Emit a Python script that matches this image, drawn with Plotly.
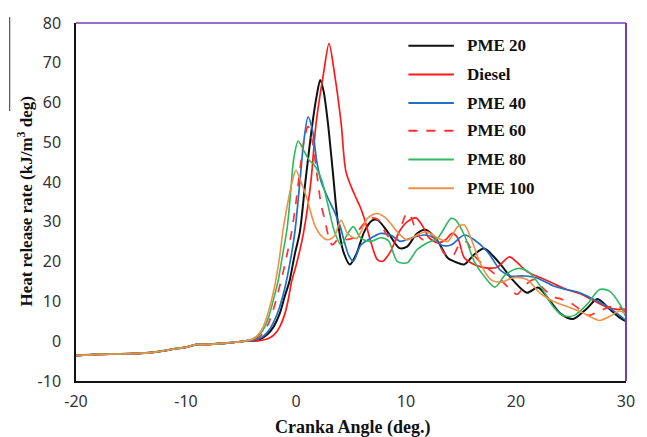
import plotly.graph_objects as go

# Axis ticks (hyphen minus as printed on the axes)
x_ticks = [-20, -10, 0, 10, 20, 30]
x_tick_text = ["-20", "-10", "0", "10", "20", "30"]
y_ticks = [-10, 0, 10, 20, 30, 40, 50, 60, 70, 80]
y_tick_text = ["-10", "0", "10", "20", "30", "40", "50", "60", "70", "80"]

# Pre-ignition part shared by all fuels (crank angle in deg, HRR in kJ/m3 deg)
angle_pre = [-20, -18, -16, -14, -13, -12, -11, -10, -9, -8, -7, -6, -5, -4.5]
hrr_pre = [-3.6, -3.3, -3.2, -3.0, -2.8, -2.4, -1.9, -1.5, -0.8, -0.8, -0.6, -0.4, -0.1, 0.1]

angle_pme20 = [-4, -3.5, -3, -2.5, -2, -1.5, -1, -0.6, -0.1, 0.35, 0.85, 1.5, 1.9, 2.2, 2.5, 2.9,
               3.35, 3.8, 4.3, 4.9, 5.5, 6.2, 6.9, 7.4, 8.3, 9.4, 10.1, 11.0, 11.8, 12.9, 13.8,
               14.7, 15.3, 16.2, 17.1, 17.9, 18.6, 19.8, 21.0, 22.0, 23.1, 24.1, 25.2, 26.4,
               27.4, 28.5, 29.4, 30]
hrr_pme20 = [0.1, 0.3, 0.9, 2.0, 3.8, 6.8, 11.5, 15.0, 22.0, 27.5, 40.0, 54.9, 62.0, 65.7, 63.0,
             54.9, 42.5, 30.0, 22.6, 19.3, 22.0, 27.5, 30.3, 30.5, 27.6, 23.4, 23.8, 27.1, 28.0,
             25.1, 20.9, 19.7, 19.3, 21.8, 23.3, 21.5, 19.3, 15.1, 12.2, 13.5, 10.1, 6.8, 5.6,
             8.1, 10.6, 8.1, 6.0, 5.0]

angle_diesel = [-4, -3.5, -3, -2.5, -2, -1.5, -1, -0.7, -0.4, 0.1, 0.7, 1.35, 1.83, 2.5, 3.0,
                3.5, 4.1, 4.55, 5.3, 5.8, 6.2, 6.8, 7.4, 7.9, 8.6, 9.4, 10.1, 10.9, 11.5, 12.1,
                12.9, 13.6, 14.2, 14.7, 15.3, 16.2, 17.4, 18.3, 19.4, 20.1, 21.0, 22.2, 23.4,
                24.6, 25.8, 27.0, 28.2, 29.2, 30]
hrr_diesel = [0.0, 0.1, 0.3, 0.7, 1.6, 3.5, 7.0, 10.5, 15.0, 20.0, 27.5, 40.0, 54.9, 67.3, 74.8,
              67.3, 54.9, 42.5, 37.0, 34.0, 31.0, 25.0, 20.5, 20.1, 22.6, 27.6, 30.0, 31.0, 29.0,
              26.0, 24.7, 25.5, 27.1, 26.0, 21.0, 19.3, 18.4, 18.6, 21.2, 19.8, 17.5, 16.0, 14.5,
              13.0, 12.0, 10.3, 8.6, 8.0, 8.1]

angle_pme40 = [-4, -3.5, -3, -2.5, -2, -1.5, -1, -0.5, -0.1, 0.35, 0.7, 1.1, 1.5, 1.9, 2.3, 2.9,
               3.5, 4.0, 4.4, 4.8, 5.2, 5.9, 6.8, 7.7, 8.6, 9.5, 10.4, 11.7, 12.6, 13.2, 14.1,
               15.3, 16.2, 17.4, 18.6, 19.5, 20.7, 21.9, 23.4, 24.6, 25.8, 27.0, 28.2, 29.1, 30]
hrr_pme40 = [0.2, 0.5, 1.2, 2.6, 5.0, 8.5, 13.5, 20.5, 27.5, 40.0, 50.0, 56.4, 53.0, 45.0, 40.0,
             36.0, 32.5, 29.0, 25.0, 21.5, 20.1, 24.2, 25.9, 27.1, 26.7, 25.1, 25.9, 26.7, 25.9,
             24.2, 24.2, 26.7, 25.5, 22.5, 17.8, 16.4, 16.4, 15.9, 13.9, 13.0, 12.2, 10.6, 8.9,
             7.2, 5.2]

angle_pme60 = [-4, -3.5, -3, -2.5, -2, -1.6, -1.2, -0.8, -0.4, 0, 0.4, 0.8, 1.1, 1.5, 1.9, 2.3,
               2.6, 3.0, 3.3, 3.8, 4.5, 5.2, 6.0, 6.8, 7.5, 8.2, 8.9, 9.5, 10.1, 10.5, 11.0, 11.6,
               12.2, 12.9, 13.5, 14.2, 14.9, 15.5, 16.2, 17.0, 17.8, 18.6, 19.4, 20.1, 20.8,
               21.6, 22.4, 23.3, 24.2, 25.0, 25.8, 26.6, 27.5, 28.4, 29.2, 30]
hrr_pme60 = [0.3, 0.8, 2.0, 4.5, 8.5, 12.6, 17.0, 22.0, 27.5, 35.0, 44.0, 51.5, 54.0, 50.0, 42.0,
             34.0, 30.8, 25.9, 24.2, 25.5, 25.5, 26.0, 29.0, 31.0, 30.5, 27.0, 25.0, 28.5, 32.3,
             31.0, 27.0, 25.5, 27.0, 25.0, 22.0, 21.3, 24.5, 25.0, 21.5, 19.3, 17.5, 15.5, 13.2,
             11.8, 14.0, 15.5, 13.5, 11.3, 10.5, 9.6, 8.0, 6.5, 7.5, 8.5, 9.0, 7.2]

angle_pme80 = [-4, -3.5, -3, -2.5, -2, -1.6, -1.2, -0.8, -0.5, -0.2, 0.2, 0.7, 1.2, 1.6, 2.3,
               2.9, 3.5, 4.1, 4.6, 5.2, 5.9, 6.8, 7.7, 8.4, 9.2, 10.1, 11.0, 11.9, 12.9, 14.1,
               14.5, 15.3, 16.2, 17.2, 18.1, 19.0, 20.2, 21.2, 22.3, 23.3, 24.3, 25.3, 26.5,
               27.6, 28.5, 29.5, 30]
hrr_pme80 = [0.4, 1.2, 2.8, 6.0, 11.0, 15.5, 22.0, 28.5, 37.0, 46.0, 50.3, 48.0, 45.5, 44.5,
             40.8, 34.3, 27.5, 24.2, 26.5, 28.8, 25.9, 25.1, 26.0, 25.3, 20.1, 19.7, 23.0, 24.7,
             26.0, 30.9, 30.5, 26.7, 20.1, 16.0, 13.6, 16.6, 18.3, 17.3, 13.5, 9.0, 6.4, 6.5,
             9.4, 13.0, 12.6, 9.0, 6.0]

angle_pme100 = [-4, -3.5, -3, -2.5, -2, -1.5, -1.2, -0.8, -0.4, 0, 0.4, 1.0, 1.7, 2.3, 2.9, 3.5,
                4.1, 4.7, 5.5, 6.0, 6.5, 7.3, 8.2, 9.2, 10.1, 11.0, 11.9, 12.9, 13.8, 14.7, 15.3,
                15.9, 16.8, 17.7, 18.6, 19.8, 21.0, 22.2, 23.4, 24.6, 25.8, 27.0, 27.6, 28.5,
                29.4, 30]
hrr_pme100 = [0.5, 1.5, 3.5, 7.5, 13.0, 21.0, 27.5, 34.0, 39.5, 43.0, 40.5, 35.8, 29.2, 26.5,
              25.5, 26.5, 30.4, 27.0, 25.8, 28.0, 30.9, 32.1, 30.9, 27.5, 25.5, 26.7, 27.5, 25.9,
              25.1, 28.8, 29.2, 25.9, 19.3, 15.5, 14.8, 16.0, 15.5, 12.0, 10.0, 8.8, 7.5, 5.8,
              5.2, 6.2, 7.6, 6.8]

series = [
    ("PME 20", angle_pme20, hrr_pme20, "#111111", "solid", 2.0),
    ("Diesel", angle_diesel, hrr_diesel, "#FF1A1A", "solid", 1.7),
    ("PME 40", angle_pme40, hrr_pme40, "#1F6FC5", "solid", 1.7),
    ("PME 60", angle_pme60, hrr_pme60, "#FF3030", "dash", 1.7),
    ("PME 80", angle_pme80, hrr_pme80, "#2DBA5E", "solid", 1.6),
    ("PME 100", angle_pme100, hrr_pme100, "#EE9148", "solid", 1.6),
]

fig = go.Figure()
# PME 20 drawn first, the other fuels over it
for name, ang, hrr, color, dash, width in series:
    fig.add_trace(go.Scatter(
        x=angle_pre + ang, y=hrr_pre + hrr, mode="lines", name=name,
        line=dict(color=color, dash=dash, width=width, shape="spline", smoothing=0.8),
        showlegend=False,
    ))

W, H = 647, 437
L, R, T, B = 76, 15, 19, 56
pw, ph = W - L - R, H - T - B


def px(x):
    return (x - L) / pw


def py(y):
    return (H - B - y) / ph


shapes = []
annotations = []
# legend: long line keys with bold serif labels
legend_rows = [42, 71, 100, 128, 157, 186]
for (name, _, _, color, dash, _), yrow in zip(series, legend_rows):
    shapes.append(dict(type="line", xref="paper", yref="paper",
                       x0=px(412), x1=px(458), y0=py(yrow), y1=py(yrow),
                       line=dict(color=color, width=2, dash="dash" if dash == "dash" else "solid")))
    annotations.append(dict(text=f"<b>{name}</b>", xref="paper", yref="paper",
                            x=px(469), y=py(yrow), xanchor="left", yanchor="middle",
                            showarrow=False,
                            font=dict(family="Liberation Serif", size=17, color="#111111")))

# purple frame on top and right
purple = "#7440B8"
shapes.append(dict(type="line", xref="paper", yref="paper", x0=0, x1=1, y0=1, y1=1,
                   line=dict(color=purple, width=1.5)))
shapes.append(dict(type="line", xref="paper", yref="paper", x0=1, x1=1, y0=0, y1=1,
                   line=dict(color=purple, width=2)))
# rule beside the y-axis title
shapes.append(dict(type="line", xref="paper", yref="paper", x0=px(9), x1=px(9),
                   y0=py(13), y1=py(108), line=dict(color="#333333", width=1)))

annotations.append(dict(text="<b>Heat release rate (kJ/m<sup>3</sup> deg)</b>",
                        xref="paper", yref="paper", x=px(24), y=py(199),
                        xanchor="center", yanchor="middle", textangle=-90, showarrow=False,
                        font=dict(family="Liberation Serif", size=17, color="#111111")))
annotations.append(dict(text="<b>Cranka Angle (deg.)</b>",
                        xref="paper", yref="paper", x=px(356), y=py(428),
                        xanchor="center", yanchor="middle", showarrow=False,
                        font=dict(family="Liberation Serif", size=18, color="#111111")))

fig.update_layout(
    width=W, height=H,
    margin=dict(l=L, r=R, t=T, b=B),
    paper_bgcolor="white", plot_bgcolor="white",
    shapes=shapes, annotations=annotations,
    showlegend=False,
)
fig.update_xaxes(range=[-20, 30], tickmode="array", tickvals=x_ticks, ticktext=x_tick_text,
                 showgrid=False, zeroline=False,
                 showline=True, linecolor="#111111", linewidth=1.5,
                 ticks="outside", ticklen=5, tickcolor="rgba(0,0,0,0)",
                 tickfont=dict(family="Noto Sans", size=16, color="#333333"))
fig.update_yaxes(range=[-10, 80], tickmode="array", tickvals=y_ticks, ticktext=y_tick_text,
                 showgrid=False, zeroline=False,
                 showline=True, linecolor="#111111", linewidth=1.5,
                 ticks="outside", ticklen=10, tickcolor="rgba(0,0,0,0)",
                 tickfont=dict(family="Noto Sans", size=16, color="#333333"))

fig.write_html("out.html")
